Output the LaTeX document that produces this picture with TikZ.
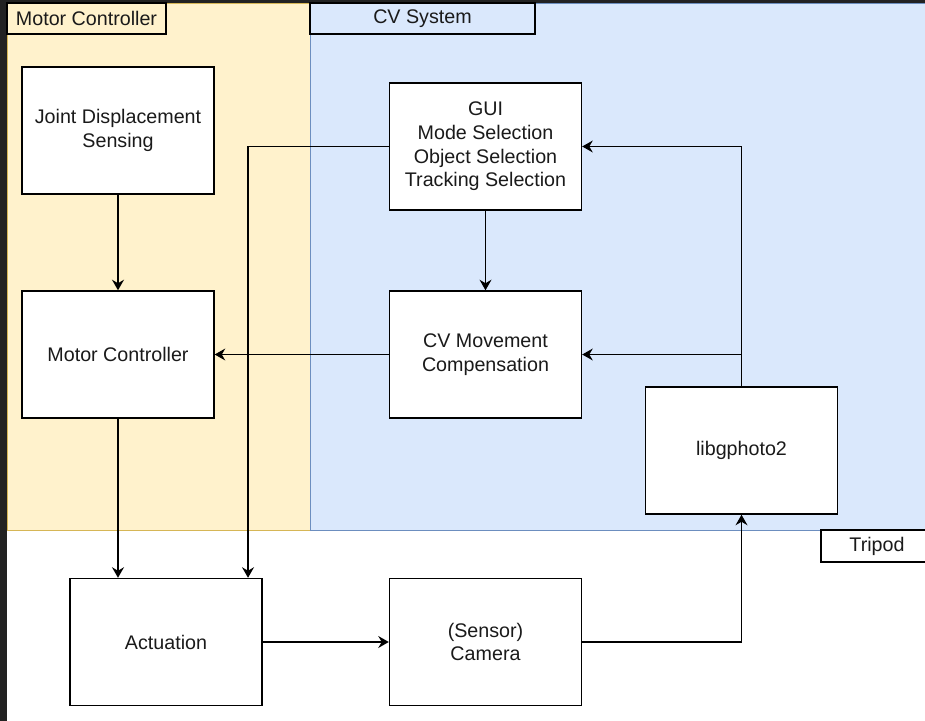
\documentclass[tikz,border=0pt]{standalone}
\usepackage{fontspec}
\setmainfont{Liberation Sans}
\usetikzlibrary{arrows.meta}
\definecolor{mcfill}{HTML}{FFF2CC}
\definecolor{mcline}{HTML}{D6B656}
\definecolor{cvfill}{HTML}{DAE8FC}
\definecolor{cvline}{HTML}{6C8EBF}
\definecolor{rand}{HTML}{222222}
\definecolor{schrift}{HTML}{1A1A1A}
\tikzset{
  block/.style={draw, fill=white, line width=1pt, minimum width=4.8cm,
    minimum height=3.175cm, align=center, inner sep=2pt, text=schrift,
    font=\fontsize{14}{16.8}\selectfont},
  tag/.style={draw, line width=1pt, minimum height=0.775cm, inner sep=0pt,
    text=schrift, font=\fontsize{14}{16.8}\selectfont},
}
\begin{document}
\begin{tikzpicture}[>={Stealth[length=7.5pt, width=8.5pt, inset=2.5pt]}, x=0.025cm, y=-0.025cm, line width=1pt]
\useasboundingbox (0,0) rectangle (925,721);
% Rand des Bildschirmfotos
\fill[white] (0,0) rectangle (925,721);
\fill[rand] (0,0) rectangle (7,721);
\fill[rand] (0,0) rectangle (925,3);
% Bereiche
\draw[mcline, fill=mcfill, line width=0.7pt] (7,3) rectangle (310,530);
\draw[cvline, fill=cvfill, line width=0.7pt] (310,3) rectangle (935,530);
% Beschriftungen der Bereiche
\node[tag, fill=mcfill, minimum width=3.975cm] (tagmc) at (86.5,18.5) {Motor Controller};
\node[tag, fill=cvfill, minimum width=5.625cm] (tagcv) at (422.5,18.5) {CV System};
\node[tag, fill=white, minimum width=2.8cm, minimum height=0.8cm] (tagtri) at (877,546) {Tripod};
% Bloecke
\node[block] (jds) at (118,130.5) {Joint Displacement\\Sensing};
\node[block] (mc) at (118,354.5) {Motor Controller};
\node[block] (gui) at (485.5,146.5) {GUI\\Mode Selection\\Object Selection\\Tracking Selection};
\node[block] (cvmc) at (485.5,354.5) {CV Movement\\Compensation};
\node[block] (lib) at (741.5,450.5) {libgphoto2};
\node[block] (act) at (166,642) {Actuation};
\node[block] (cam) at (485.5,642) {(Sensor)\\Camera};
% Verbindungen
\draw[->] (jds) -- (mc);
\draw[->] (mc.south) -- (mc.south |- act.north);
\draw[->] (gui.west) -| ([xshift=2.05cm]act.north);
\draw[->] (gui) -- (cvmc);
\draw[->] (cvmc) -- (mc);
\draw[->] (lib.north) |- (gui.east);
\draw[->] (lib.north |- cvmc.east) -- (cvmc.east);
\draw[->] (act) -- (cam);
\draw[->] (cam.east) -| (lib.south);
\end{tikzpicture}
\end{document}
